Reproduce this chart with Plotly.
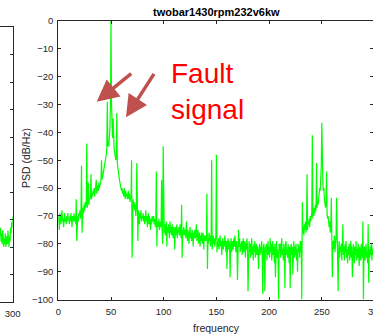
import plotly.graph_objects as go

W, H = 373, 334

# PSD values (dB/Hz), 0.5 Hz spacing from 0 to 300 Hz
psd = [
    -70,-72,-75,-69,-71,-73,-70,-68,-72,-71,-74,-70,-69,-72,-71,-73,-70,-72,-69,-71,
    -71,-73,-70,-72,-69,-71,-74,-70,-72,-71,-69,-72,-70,-73,-64,-79,-71,-70,-72,-69,
    -70,-68,-71,-69,-52,-76,-68,-67,-69,-66,-68,-65,-67,-66,-44,-67,-65,-58,-66,-64,
    -64,-63,-55,-64,-62,-63,-61,-62,-60,-63,-61,-60,-57,-62,-60,-59,-61,-58,-60,-59,
    -58,-57,-50,-57,-56,-55,-54,-53,-52,-51,-50,-48,-46,-29,-45,-43,-45,-42,-38,-30,
    0,-30,-38,-42,-35,-44,-46,-47,-49,-50,-49,-33,-51,-53,-54,-56,-57,-58,-59,-60,
    -61,-60,-62,-61,-63,-60,-62,-64,-61,-63,-62,-64,-63,-61,-64,-62,-65,-63,-64,-50,
    -85,-66,-64,-67,-65,-68,-66,-70,-67,-51,-69,-79,-68,-70,-73,-69,-71,-68,-72,-70,
    -71,-69,-72,-70,-73,-71,-68,-72,-70,-74,-71,-69,-73,-70,-72,-75,-71,-73,-70,-72,
    -72,-70,-73,-71,-74,-72,-54,-81,-72,-74,-73,-71,-75,-73,-72,-74,-57,-75,-80,-45,
    -74,-76,-73,-77,-75,-72,-81,-74,-76,-73,-75,-78,-72,-76,-74,-77,-73,-75,-78,-74,
    -76,-82,-74,-77,-75,-73,-78,-75,-76,-74,-77,-73,-76,-78,-66,-85,-75,-77,-74,-76,
    -77,-75,-78,-72,-76,-79,-75,-77,-80,-76,-74,-78,-76,-79,-75,-77,-81,-76,-78,-75,
    -78,-76,-73,-79,-77,-75,-80,-78,-76,-81,-77,-79,-76,-80,-78,-76,-82,-77,-79,-78,
    -77,-79,-62,-89,-78,-80,-76,-79,-77,-81,-78,-50,-82,-79,-77,-80,-78,-81,-79,-77,
    -48,-83,-79,-81,-78,-82,-80,-77,-81,-79,-84,-80,-78,-82,-79,-81,-77,-80,-83,-79,
    -89,-80,-78,-82,-79,-81,-92,-80,-78,-83,-80,-79,-82,-78,-81,-77,-80,-83,-79,-81,
    -93,-79,-75,-81,-78,-83,-80,-82,-79,-84,-80,-78,-83,-81,-79,-85,-80,-82,-78,-81,
    -97,-81,-79,-83,-80,-85,-82,-78,-84,-81,-86,-80,-83,-79,-85,-82,-80,-84,-81,-83,
    -89,-82,-80,-84,-81,-83,-79,-85,-98,-82,-80,-84,-97,-81,-83,-80,-86,-82,-79,-84,
    -81,-85,-78,-83,-80,-86,-82,-79,-84,-81,-87,-80,-92,-83,-79,-85,-82,-84,-100,-80,
    -83,-80,-85,-81,-78,-84,-82,-86,-80,-83,-96,-81,-79,-84,-82,-85,-80,-83,-87,-81,
    -96,-82,-80,-84,-81,-91,-83,-79,-85,-81,-84,-80,-86,-82,-90,-80,-83,-81,-85,-79,
    -83,-79,-100,-65,-76,-74,-77,-73,-75,-72,-76,-74,-55,-75,-72,-73,-71,-74,-70,-72,
    -70,-69,-41,-71,-68,-70,-67,-69,-66,-68,-51,-67,-65,-66,-64,-62,-60,-61,-57,-52,
    -36.5,-53,-58,-61,-60,-64,-65,-67,-66,-54,-69,-71,-70,-73,-74,-72,-76,-75,-63.5,-78,
    -92,-79,-82,-80,-77,-83,-81,-78,-63.5,-84,-80,-97,-82,-79,-85,-81,-83,-80,-86,-82,
    -73,-84,-81,-86,-80,-83,-79,-85,-82,-87,-81,-84,-80,-86,-83,-79,-85,-81,-92,-84,
    -80,-83,-87,-81,-84,-79,-86,-82,-85,-80,-83,-88,-81,-84,-86,-80,-83,-85,-72,-100,
    -84,-81,-86,-82,-80,-85,-83,-87,-73,-94,-82,-85,-81,-84,-80,-86,-82,-84,-79,-83,-81,
]
freq = [i * 0.5 for i in range(len(psd))]

# tail of the neighbouring (left) subplot, 288-300 Hz
left_psd = [-76,-73,-78,-75,-79,-74,-76,-80,-77,-79,-75,-80,-78,-76,-79,-74,-77,-80,-76,-78,-73,-75,-71,-73,-69]
left_freq = [288 + i * 0.5 for i in range(len(left_psd))]

x_ticks = [0, 50, 100, 150, 200, 250]
y_ticks = [0, -10, -20, -30, -40, -50, -60, -70, -80, -90, -100]
title_text = "twobar1430rpm232v6kw"
x_label = "frequency"
y_label = "PSD (dB/Hz)"

AX = "#262626"
GREEN = "#00FF00"
FONT = "Liberation Sans, Arial, sans-serif"

def px(x):
    return x / W

def py(y):
    return (H - y) / H

fig = go.Figure()
fig.add_trace(go.Scatter(x=freq, y=psd, mode="lines", line=dict(color=GREEN, width=1.2),
                         xaxis="x", yaxis="y", showlegend=False, hoverinfo="skip"))
fig.add_trace(go.Scatter(x=left_freq, y=left_psd, mode="lines", line=dict(color=GREEN, width=1.2),
                         xaxis="x2", yaxis="y2", showlegend=False, hoverinfo="skip"))

common = dict(showgrid=False, zeroline=False, showline=True, linecolor=AX, linewidth=1,
              ticks="inside", ticklen=3, tickcolor=AX, tickwidth=1,
              tickfont=dict(family=FONT, size=9.5, color=AX), automargin=False)

x_main_right = 300 * (W - 58.3) / (374.5 - 58.3)

fig.update_layout(
    width=W, height=H, margin=dict(l=0, r=0, t=0, b=0),
    paper_bgcolor="white", plot_bgcolor="white",
    xaxis=dict(domain=[px(58.3), 1], range=[0, x_main_right], tickvals=x_ticks,
               mirror="ticks", anchor="y", ticklabelstandoff=3, **common),
    yaxis=dict(domain=[py(299.5), py(21)], range=[-100, 0], tickvals=y_ticks,
               mirror="ticks", anchor="x", ticklabelstandoff=2, **common),
    xaxis2=dict(domain=[0, px(12.7)], range=[288, 300], tickvals=[300],
                mirror=True, anchor="y2", ticklabelstandoff=3, **common),
    yaxis2=dict(domain=[py(302), py(27.3)], range=[-100, 0], tickvals=y_ticks,
                side="right", mirror=False, anchor="x2", showticklabels=False, **common),
)

annotations = [
    dict(text="<b>%s</b>" % title_text, x=px(216.4), y=py(12), xref="paper", yref="paper",
         showarrow=False, font=dict(family=FONT, size=11, color="black"), xanchor="center", yanchor="middle"),
    dict(text=x_label, x=px(216.7), y=py(327.5), xref="paper", yref="paper",
         showarrow=False, font=dict(family=FONT, size=10.5, color=AX), xanchor="center", yanchor="middle"),
    dict(text=y_label, x=px(26), y=py(158), xref="paper", yref="paper", textangle=-90,
         showarrow=False, font=dict(family=FONT, size=10.5, color=AX), xanchor="center", yanchor="middle"),
    dict(text="300", x=px(376), y=py(311.5), xref="paper", yref="paper",
         showarrow=False, font=dict(family=FONT, size=9.5, color=AX), xanchor="center", yanchor="middle"),
    dict(text="Fault<br>signal", x=px(169), y=py(91), xref="paper", yref="paper", align="left",
         showarrow=False, font=dict(family=FONT, size=28, color="#FF0000"), xanchor="left", yanchor="middle"),
    dict(text="", x=36.4, y=-29, xref="x", yref="y", ax=36, ay=-29.4, showarrow=True,
         arrowhead=2, arrowsize=1.25, arrowwidth=3.5, arrowcolor="#C0504D", standoff=0),
    dict(text="", x=64.2, y=-34.6, xref="x", yref="y", ax=29, ay=-45, showarrow=True,
         arrowhead=2, arrowsize=1.25, arrowwidth=3.5, arrowcolor="#C0504D", standoff=0),
]
fig.update_layout(annotations=annotations)

fig.write_html("out.html")
